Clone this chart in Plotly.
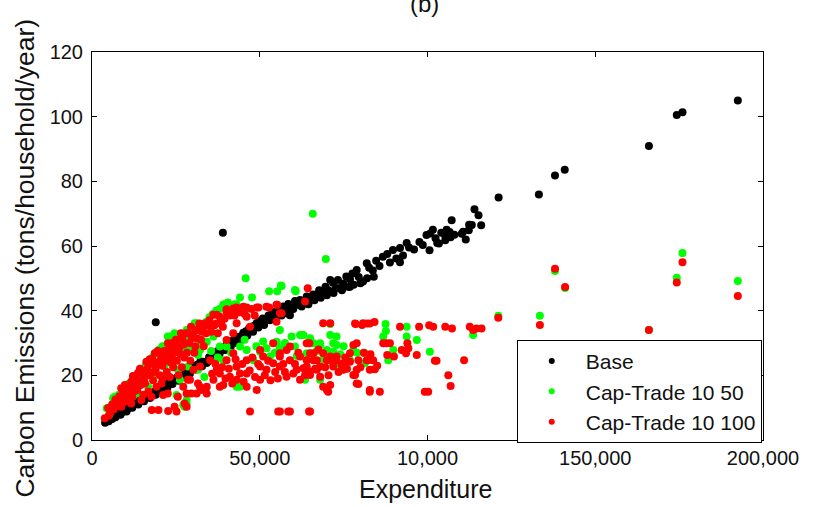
import plotly.graph_objects as go

# Expenditure in thousands of dollars, emissions in tons/household/year
base_points = [
    (3.9,5.3),(4.6,6.2),(5.4,6.8),(6.3,7.0),(7.4,7.7),(8.1,8.3),(9.0,8.6),(9.8,9.4),(10.7,9.7),(11.5,10.4),
    (12.4,10.9),(13.2,11.4),(14.3,12.4),(15.1,12.6),(16.0,13.5),(16.9,13.8),(17.8,14.6),(18.6,14.9),(19.4,15.8),(20.3,15.5),
    (21.1,16.6),(22.0,17.0),(22.8,17.9),(23.7,18.1),(24.5,18.9),(25.4,19.4),(26.2,19.6),(27.1,20.6),(28.0,21.0),(28.8,21.9),
    (29.7,22.3),(30.5,23.0),(31.4,23.3),(32.3,24.3),(33.1,24.2),(34.2,23.8),(34.9,25.6),(35.8,26.4),(36.6,26.9),(37.5,27.5),
    (38.3,27.8),(39.0,27.8),(40.0,29.3),(40.9,29.8),(41.7,30.6),(42.6,31.2),(43.4,31.4),(44.1,32.0),(45.1,33.2),(45.9,33.6),
    (46.8,34.5),(47.6,35.0),(48.4,35.3),(49.1,36.2),(50.1,36.8),(50.9,37.6),(51.8,37.3),(52.6,38.5),(53.5,38.9),(54.3,39.6),
    (55.2,39.0),(56.0,40.2),(57.0,41.3),(58.0,39.2),(58.5,42.1),(59.6,41.1),(60.5,43.0),(61.0,41.8),(62.0,43.3),(63.1,42.5),
    (64.0,44.4),(65.0,43.6),(65.9,45.0),(66.8,44.6),(67.7,46.3),(68.8,45.5),(69.6,47.4),(70.5,46.3),(71.0,49.5),(71.8,48.6),
    (72.7,47.0),(73.3,49.5),(74.0,47.0),(74.9,48.4),(75.8,50.6),(76.9,49.7),(76.9,47.4),(77.6,51.5),(78.9,52.6),(79.5,50.4),
    (80.8,49.0),(81.9,54.7),(82.6,53.3),(83.7,52.4),(84.7,55.4),(85.7,53.8),(86.7,56.7),(88.0,57.5),(88.8,54.9),(89.7,58.8),
    (90.7,56.1),(91.8,59.4),(91.8,55.0),(92.7,57.1),(93.8,60.9),(94.5,59.5),(96.0,58.9),(97.6,61.2),(98.6,60.3),(99.7,63.4),
    (100.6,58.7),(100.8,63.9),(101.6,65.0),(102.4,62.4),(102.9,60.9),(103.4,60.8),(104.1,64.1),(105.2,63.3),(105.3,61.8),(105.7,65.0),
    (106.6,64.3),(106.9,62.7),(107.2,68.0),(108.0,63.5),(110.2,63.8),(110.6,64.4),(111.4,62.0),(112.3,64.9),(112.4,66.6),(113.2,66.5),
    (114.0,71.4),(115.2,69.5),(116.0,66.4),(121.2,75.0),(133.2,75.9),(138.0,81.8),(140.9,83.6),(166.0,90.9),(174.3,100.5),(176.0,101.4),
    (192.5,105.0),(19.0,36.4),(39.0,64.1),
    (5.0,5.8),(6.0,6.5),(7.0,7.0),(8.5,7.8),(10.3,8.8),(12.0,10.0),(13.8,11.0),(15.5,12.0),(17.3,13.0),(19.0,14.0),
    (20.8,15.0),(22.5,16.2),(24.0,17.3),(25.8,18.3),(27.5,19.5),(29.2,20.6),(31.0,21.8),(32.8,22.8),(34.5,24.3),(36.2,25.3),
    (38.0,26.6),(39.7,27.8),(41.3,28.7),(43.0,30.0),(44.6,31.0),(46.3,32.3),(48.0,33.5),(49.6,34.8),(51.3,35.6),(53.0,37.0),
    (54.7,37.8),(56.5,38.5),(58.0,40.0),(59.0,38.6),(60.0,40.5),(62.5,41.3),(64.5,42.0),(66.3,43.2),(68.2,44.0),(70.0,44.8),
    (72.0,45.5),(74.5,46.3),(76.5,47.3),(78.0,48.0),(80.0,48.5),(82.0,50.0),(84.0,50.5),
]

cap_trade_50_points = [
    (4.4,9.8),(5.2,8.0),(6.3,12.9),(6.8,13.4),(8.0,14.0),(9.0,15.5),(10.0,16.0),(11.0,17.5),(12.0,18.5),(12.8,19.6),
    (13.3,14.4),(13.7,16.5),(14.0,20.5),(15.0,22.0),(16.0,23.0),(16.7,16.5),(17.0,24.5),(18.0,25.5),(19.0,27.0),(20.0,28.0),
    (21.0,29.0),(21.6,22.7),(22.6,32.0),(23.2,32.0),(24.6,33.0),(25.2,13.9),(25.6,21.7),(26.0,30.0),(26.2,18.6),(27.0,30.4),
    (27.2,10.8),(27.6,27.8),(27.6,10.3),(28.2,34.0),(28.2,12.4),(28.2,11.3),(28.3,33.5),(28.6,22.7),(29.0,31.0),(30.0,33.0),
    (30.6,36.1),(31.2,36.1),(31.6,26.3),(31.6,21.7),(32.2,27.8),(33.0,34.0),(34.2,30.4),(35.0,38.0),(36.2,32.0),(37.0,40.0),
    (38.1,28.9),(39.1,41.8),(39.1,24.7),(39.4,42.0),(40.1,28.9),(42.6,42.0),(43.1,41.8),(43.1,22.7),(43.1,16.5),(44.1,44.1),
    (44.1,16.5),(44.1,28.9),(45.8,50.0),(46.1,27.8),(47.7,44.1),(48.1,24.7),(50.1,27.3),(52.0,28.4),(52.8,46.0),(53.0,25.8),
    (55.0,29.9),(55.0,30.4),(55.2,46.0),(56.0,34.0),(56.0,28.4),(56.3,47.8),(56.5,47.6),(60.5,28.9),(60.5,46.4),(60.7,46.0),
    (62.0,32.5),(62.5,32.5),(63.0,32.5),(63.5,18.6),(64.0,21.7),(64.0,26.8),(65.8,70.0),(66.0,29.9),(68.0,29.9),(68.0,29.4),
    (68.0,18.6),(69.7,56.0),(70.0,27.8),(71.0,32.5),(71.0,35.9),(71.9,29.9),(71.9,27.3),(72.9,32.0),(72.9,29.4),(72.9,23.2),
    (76.9,24.7),(77.9,27.8),(81.3,26.8),(81.3,23.7),(86.8,32.0),(87.5,35.9),(87.6,33.7),(88.3,24.7),(89.8,27.8),(93.8,35.0),
    (93.8,32.0),(96.8,30.9),(100.7,27.3),(113.6,32.5),(121.1,38.4),(133.5,38.4),(138.0,52.3),(141.0,47.0),(166.0,34.0),(174.3,50.2),
    (176.0,57.8),(192.5,49.2),
    (33.5,19.5),(35.5,27.5),(37.5,25.5),(41.5,27.0),(45.5,31.0),(49.0,29.0),(51.0,30.5),(54.5,27.0),(57.5,30.0),(59.5,32.0),
    (61.0,26.0),(65.0,31.5),(67.0,27.5),(69.0,25.0),(74.0,26.5),(75.0,29.0),(79.0,27.0),(8.5,12.0),(10.5,14.0),(12.5,16.0),
    (15.5,18.5),(18.5,20.5),(20.5,23.5),(23.0,25.5),(24.0,28.0),(26.5,27.0),(29.5,28.5),(32.5,30.0),(34.0,36.5),(36.0,39.0),
    (38.0,40.5),(40.5,42.5),(41.5,40.0),
]

cap_trade_100_points = [
    (3.8,6.7),(4.8,9.9),(5.5,8.5),(6.0,11.0),(7.0,12.5),(7.7,12.4),(8.7,16.0),(8.7,10.3),(9.5,14.0),(10.5,13.0),
    (10.7,15.5),(11.0,16.5),(11.7,18.0),(11.7,11.3),(12.5,15.0),(12.7,17.0),(13.0,19.0),(13.7,20.7),(14.5,17.0),(14.7,12.4),
    (15.0,21.0),(15.5,19.0),(16.2,24.2),(16.5,22.0),(17.0,20.0),(17.5,23.5),(17.7,13.4),(17.8,9.3),(18.0,25.0),(18.7,26.8),
    (19.0,22.0),(19.5,24.0),(19.8,9.3),(20.0,27.0),(20.5,25.0),(20.7,17.5),(21.0,23.0),(21.2,13.9),(21.5,27.5),(22.0,26.0),
    (22.6,29.9),(22.6,14.4),(22.7,9.0),(23.0,28.0),(23.5,24.0),(24.0,30.0),(24.5,27.0),(24.6,10.3),(25.0,31.0),(25.2,8.8),
    (25.6,30.9),(25.6,13.4),(26.0,28.5),(26.5,33.0),(27.0,31.0),(27.2,16.5),(27.5,25.5),(27.6,11.3),(28.0,33.0),(28.2,14.4),
    (28.2,10.3),(28.6,33.0),(28.6,18.6),(29.0,30.0),(29.2,18.6),(29.5,35.0),(29.6,14.4),(30.0,32.5),(30.2,21.7),(30.5,27.0),
    (31.0,34.0),(31.2,14.4),(31.6,34.0),(31.6,17.5),(32.0,36.0),(32.2,22.7),(32.2,16.5),(32.5,31.0),(32.6,15.5),(33.0,35.0),
    (33.6,36.0),(34.0,33.0),(34.2,16.5),(34.2,14.4),(35.0,37.0),(35.2,24.7),(36.2,38.7),(36.2,18.6),(37.0,36.0),(37.2,38.7),
    (37.2,21.7),(38.1,38.1),(38.1,20.6),(38.1,16.5),(39.0,35.0),(39.1,17.0),(40.1,39.7),(40.1,40.4),(40.1,30.9),(40.1,24.7),
    (41.1,19.6),(42.1,40.7),(42.1,33.0),(42.1,26.8),(43.1,41.0),(43.1,36.1),(43.1,22.7),(43.1,18.6),(44.1,20.6),(45.1,41.2),
    (46.1,41.0),(46.1,38.1),(46.1,24.7),(46.1,20.6),(46.1,16.5),(47.1,35.0),(47.1,8.8),(49.1,41.0),(49.1,15.5),(49.6,41.0),
    (50.1,22.7),(50.1,27.8),(50.1,18.6),(51.0,25.8),(52.0,21.7),(52.0,41.2),(52.8,41.0),(54.0,23.7),(54.0,29.9),(55.0,41.8),
    (55.0,36.6),(55.2,41.8),(55.5,8.8),(56.0,22.7),(56.0,26.8),(56.0,25.8),(56.0,39.2),(56.0,8.8),(56.5,39.2),(58.0,19.6),
    (58.0,27.8),(58.5,8.8),(59.0,24.7),(59.0,28.9),(59.0,8.8),(60.0,20.6),(61.0,21.7),(62.0,25.8),(62.0,18.6),(63.0,22.2),
    (63.5,42.8),(64.0,22.7),(64.0,24.7),(64.0,29.9),(64.3,46.9),(64.7,8.8),(64.8,29.9),(65.0,20.1),(65.0,21.1),(65.0,26.8),
    (65.0,8.8),(66.0,24.7),(66.0,26.8),(67.0,24.7),(67.0,21.7),(68.0,22.7),(68.0,19.6),(68.9,36.1),(68.9,26.8),(68.9,16.5),
    (70.0,24.7),(70.0,15.5),(70.4,14.9),(71.0,36.1),(71.0,17.0),(71.0,25.8),(71.9,22.7),(71.9,23.7),(72.9,25.8),(72.9,24.7),
    (74.4,23.2),(74.9,23.7),(74.9,21.7),(76.9,24.2),(76.9,26.8),(77.9,29.4),(77.9,20.1),(78.4,36.0),(78.4,20.1),(78.6,35.9),
    (78.9,29.9),(78.9,17.5),(78.9,21.7),(79.4,24.7),(79.4,17.3),(80.5,35.6),(80.8,36.1),(81.9,36.0),(81.9,24.7),(82.3,24.7),
    (82.8,36.0),(82.8,21.7),(82.8,15.5),(82.8,14.9),(83.8,24.7),(84.2,36.5),(84.3,21.9),(85.8,14.9),(86.8,29.9),(87.8,29.9),
    (88.0,26.3),(88.8,29.9),(90.0,25.8),(91.8,35.0),(92.3,27.8),(93.6,26.8),(94.0,29.9),(94.3,28.4),(96.8,26.3),(97.5,35.0),
    (99.2,14.9),(100.2,14.9),(100.5,35.5),(101.7,35.0),(102.2,24.5),(102.7,24.5),(105.3,35.0),(106.2,20.0),(106.9,16.7),(107.3,34.5),
    (110.9,24.7),(112.6,35.0),(113.6,34.0),(114.6,34.5),(116.1,34.5),(121.1,37.8),(133.5,35.6),(138.0,53.0),(141.0,47.3),(166.0,34.0),
    (174.3,48.7),(176.0,55.0),(192.5,44.5),
    (5.0,7.5),(6.5,9.5),(7.5,10.5),(8.2,13.5),(9.2,11.5),(9.8,17.0),(10.2,12.0),(11.3,14.0),(12.0,13.2),(12.2,19.8),
    (13.5,15.5),(14.0,18.5),(14.3,22.0),(15.3,14.0),(15.8,17.5),(16.0,20.5),(16.8,15.0),(17.2,25.0),(18.2,18.5),(18.5,21.0),
    (19.2,16.5),(19.6,27.5),(20.2,20.0),(21.0,19.0),(21.8,24.5),(22.3,21.0),(23.2,19.5),(23.8,26.0),(24.2,22.5),(24.8,29.0),
    (25.3,24.5),(25.8,20.0),(26.3,26.5),(26.8,22.5),(27.3,29.5),(28.3,27.0),(29.3,24.5),(29.8,31.5),(30.8,29.0),(31.3,31.5),
    (32.8,33.5),(33.3,29.0),(34.5,35.5),(35.5,33.5),(36.5,35.5),(37.5,33.0),(38.5,36.5),(39.5,37.5),(41.0,38.5),(42.5,38.5),
    (44.0,39.5),(45.5,39.0),(47.5,40.5),(48.5,38.5),
    (35.8,20.5),(36.8,23.5),(38.8,22.5),(39.8,19.0),(40.8,22.0),(41.8,17.5),(42.8,25.0),(44.8,23.5),(45.2,18.0),(47.0,21.5),
    (47.8,25.5),(48.6,19.5),(49.5,23.5),(51.5,20.0),(52.5,24.5),(53.2,18.5),(54.6,21.0),(55.4,19.0),(57.0,23.5),(57.5,21.0),
    (60.5,23.5),(61.5,27.0),(63.5,20.0),(66.5,22.0),(67.5,28.0),(69.5,22.5),(70.5,20.0),(73.5,21.0),(75.5,25.5),(76.0,22.0),
    (80.0,22.5),(81.0,27.0),(83.0,26.5),(85.0,23.0),
]

series_names = ["Base", "Cap-Trade 10 50", "Cap-Trade 10 100"]
series_colors = ["#000000", "#00ff00", "#ff0000"]
x_tickvals = [0, 50, 100, 150, 200]
x_ticktext = ["0", "50,000", "10,000", "150,000", "200,000"]
y_tickvals = [0, 20, 40, 60, 80, 100, 120]

FONT = "Liberation Sans, Arial, sans-serif"

fig = go.Figure()
for pts, name, color in zip([base_points, cap_trade_50_points, cap_trade_100_points], series_names, series_colors):
    xs = [p[0] for p in pts]
    ys = [p[1] for p in pts]
    fig.add_trace(go.Scatter(x=xs, y=ys, mode="markers", name=name, showlegend=False,
                             marker=dict(color=color, size=8, line=dict(width=0))))
# legend entries with small symbols
for name, color in zip(series_names, series_colors):
    fig.add_trace(go.Scatter(x=[None], y=[None], mode="markers", name=name,
                             marker=dict(color=color, size=6)))

axis_common = dict(showline=True, linecolor="black", linewidth=1, mirror="ticks",
                   ticks="inside", ticklen=5, tickcolor="black", showgrid=False, zeroline=False,
                   tickfont=dict(family=FONT, size=20, color="#111111"))
fig.update_xaxes(range=[0, 200], tickvals=x_tickvals, ticktext=x_ticktext, **axis_common)
fig.update_yaxes(range=[0, 120], tickvals=y_tickvals, ticklabelstandoff=4, **axis_common)

fig.update_layout(
    width=820, height=507,
    margin=dict(l=92, r=57, t=52, b=67),
    paper_bgcolor="white", plot_bgcolor="white",
    legend=dict(x=0.633, y=0.258, xanchor="left", yanchor="top",
                bordercolor="black", borderwidth=1, bgcolor="white",
                itemwidth=58, font=dict(family=FONT, size=21, color="#111111"),
                tracegroupgap=0),
    annotations=[
        dict(text="Expenditure", xref="paper", yref="paper", x=0.497, y=-0.126,
             xanchor="center", yanchor="middle", showarrow=False,
             font=dict(family=FONT, size=25, color="#111111")),
        dict(text="Carbon Emissions (tons/household/year)", xref="paper", yref="paper",
             x=-0.1, y=0.47, xanchor="center", yanchor="middle", textangle=-90,
             showarrow=False, font=dict(family=FONT, size=26.5, color="#111111")),
        dict(text="(b)", xref="paper", yref="paper", x=0.496, y=1.125,
             xanchor="center", yanchor="middle", showarrow=False,
             font=dict(family=FONT, size=24, color="#111111")),
    ],
)

fig.write_html("out.html")
